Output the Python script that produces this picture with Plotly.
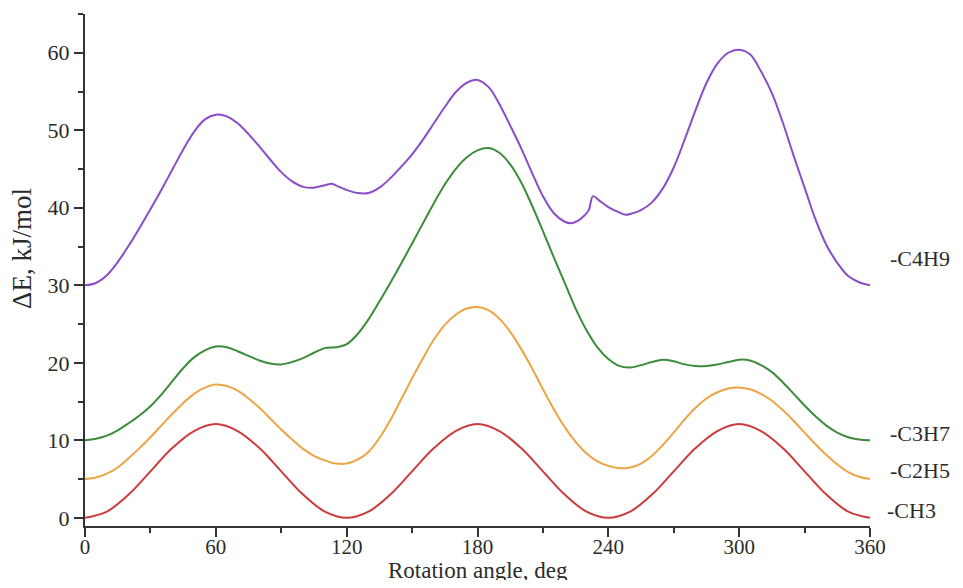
import plotly.graph_objects as go

# ---- data ----
ch3_angle = list(range(0, 361, 10))
ch3_energy = [0.0, 0.8, 3.0, 6.0, 9.0, 11.2, 12.1, 11.2, 9.0, 6.0, 3.0, 0.8, 0.0,
              0.8, 3.0, 6.0, 9.0, 11.2, 12.1, 11.2, 9.0, 6.0, 3.0, 0.8, 0.0,
              0.8, 3.0, 6.0, 9.0, 11.2, 12.1, 11.2, 9.0, 6.0, 3.0, 0.8, 0.0]

c2h5_angle = list(range(0, 361, 5))
c2h5_energy = [5.0, 5.2, 5.7, 6.5, 7.7, 9.0, 10.4, 11.9, 13.4, 14.8, 16.0, 16.8, 17.2,
               17.0, 16.4, 15.4, 14.2, 12.8, 11.4, 10.1, 8.9, 8.0, 7.4, 7.0, 7.0,
               7.5, 8.5, 10.3, 12.6, 15.3, 18.0, 20.6, 23.0, 24.9, 26.2, 27.0, 27.2,
               26.8, 25.7, 24.0, 21.8, 19.3, 16.6, 14.0, 11.7, 9.8, 8.3, 7.3, 6.7,
               6.4, 6.5, 7.0, 8.0, 9.4, 11.0, 12.7, 14.2, 15.4, 16.2, 16.7, 16.8,
               16.6, 16.0, 15.1, 13.9, 12.5, 11.0, 9.5, 8.1, 6.9, 5.9, 5.3, 5.0]

c3h7_angle = list(range(0, 361, 5))
c3h7_energy = [10.0, 10.2, 10.6, 11.3, 12.2, 13.2, 14.4, 15.9, 17.6, 19.3, 20.7, 21.6,
               22.1, 22.0, 21.5, 20.9, 20.3, 19.9, 19.8, 20.1, 20.6, 21.3, 21.9, 22.0,
               22.4, 23.7, 25.6, 27.9, 30.3, 32.8, 35.4, 38.0, 40.6, 43.0, 45.0, 46.5,
               47.4, 47.7, 47.1, 45.6, 43.3, 40.3, 37.0, 33.6, 30.3, 27.0, 24.2, 22.0,
               20.5, 19.6, 19.4, 19.7, 20.1, 20.4, 20.2, 19.8, 19.6, 19.6, 19.8, 20.1,
               20.4, 20.3, 19.7, 18.8, 17.5, 16.0, 14.5, 13.1, 11.9, 11.0, 10.4, 10.1,
               10.0]

c4h9_angle = [0, 5, 10, 15, 20, 25, 30, 35, 40, 45, 50, 55, 60, 65, 70, 75, 80, 85, 90,
              95, 100, 105, 110, 113, 115, 120, 125, 130, 135, 140, 145, 150, 155, 160,
              165, 170, 175, 180, 185, 190, 195, 200, 205, 210, 215, 220, 223, 226, 229,
              231, 233, 236, 240, 245, 248, 250, 255, 260, 265, 270, 275, 280, 285, 290,
              295, 300, 305, 310, 315, 320, 325, 330, 335, 340, 345, 350, 355, 360]
c4h9_energy = [30.0, 30.3, 31.3, 33.0, 35.1, 37.4, 39.8, 42.3, 44.9, 47.5, 49.8, 51.4,
               52.0, 51.8, 50.9, 49.5, 47.9, 46.2, 44.6, 43.4, 42.7, 42.6, 42.9, 43.1,
               42.9, 42.3, 41.9, 41.9, 42.6, 43.8, 45.3, 46.9, 48.8, 50.9, 53.0, 54.9,
               56.1, 56.5, 55.6, 53.4, 50.6, 47.7, 44.5, 41.5, 39.3, 38.2, 38.0, 38.3,
               39.0, 39.7, 41.5, 40.9, 40.1, 39.4, 39.1, 39.2, 39.7, 40.7, 42.5, 45.2,
               48.8, 52.6, 56.1, 58.6, 60.0, 60.4, 59.8, 57.6, 54.8, 51.0, 46.7, 42.6,
               38.5, 35.2, 32.9, 31.2, 30.4, 30.0]

series_names = ["-CH3", "-C2H5", "-C3H7", "-C4H9"]
series_colors = ["#cc3b3b", "#eda445", "#3c8c3c", "#8a4cc8"]
label_values = [0.9, 6.1, 10.9, 33.4]

x_ticks = [0, 60, 120, 180, 240, 300, 360]
y_ticks = [0, 10, 20, 30, 40, 50, 60]

FONT = "Liberation Serif, Times New Roman, serif"
TXT = "#2b2b2b"

fig = go.Figure()
data = [(ch3_angle, ch3_energy), (c2h5_angle, c2h5_energy),
        (c3h7_angle, c3h7_energy), (c4h9_angle, c4h9_energy)]
for (xs, ys), name, col in zip(data, series_names, series_colors):
    fig.add_trace(go.Scatter(x=xs, y=ys, mode="lines", name=name,
                             line=dict(color=col, width=2, shape="spline", smoothing=1.0),
                             showlegend=False))

for name, val in zip(series_names, label_values):
    fig.add_annotation(x=1, xref="paper", y=val, yref="y", text=name, showarrow=False,
                       xanchor="left", yanchor="middle",
                       xshift=15 if name == "-CH3" else 18,
                       font=dict(family=FONT, size=22, color=TXT))

fig.add_annotation(x=0.5, xref="paper", y=0, yref="paper", text="Rotation angle, deg",
                   showarrow=False, xanchor="center", yanchor="top", yshift=-30,
                   font=dict(family=FONT, size=23, color=TXT))
fig.add_annotation(x=0, xref="paper", y=34.7, yref="y", text="ΔE, kJ/mol",
                   showarrow=False, textangle=-90, xanchor="center", yanchor="middle",
                   xshift=-63, font=dict(family=FONT, size=27, color=TXT))

# the page body adds an 8px margin on every side; keep the figure inside the window
fig.update_layout(
    width=947, height=572,
    margin=dict(l=77, r=85, t=6, b=54),
    paper_bgcolor="white", plot_bgcolor="white",
    font=dict(family=FONT, size=20, color=TXT),
)
fig.update_xaxes(range=[0, 360], tickvals=x_ticks, ticktext=[str(v) for v in x_ticks],
                 showline=True, linecolor="#333333", linewidth=2, showgrid=False,
                 zeroline=False, ticks="outside", ticklen=9, tickwidth=2,
                 tickcolor="#333333", ticklabelstandoff=-8,
                 minor=dict(dtick=30, tick0=0, ticks="outside", ticklen=5,
                            tickwidth=2, tickcolor="#333333", showgrid=False),
                 tickfont=dict(family=FONT, size=21, color=TXT))
fig.update_yaxes(range=[-1.05, 65], tickvals=y_ticks, ticktext=[str(v) for v in y_ticks],
                 showline=True, linecolor="#333333", linewidth=2, showgrid=False,
                 zeroline=False, ticks="outside", ticklen=9, tickwidth=2,
                 tickcolor="#333333",
                 minor=dict(dtick=5, tick0=0, ticks="outside", ticklen=5,
                            tickwidth=2, tickcolor="#333333", showgrid=False),
                 tickfont=dict(family=FONT, size=22, color=TXT))

fig.write_html("out.html")
